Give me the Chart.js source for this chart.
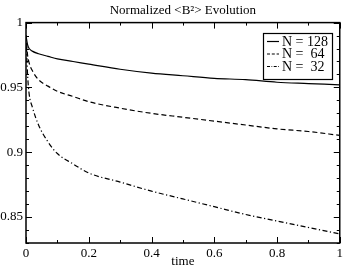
<!DOCTYPE html>
<html>
<head>
<meta charset="utf-8">
<script src="https://cdn.jsdelivr.net/npm/chart.js@4/dist/chart.umd.min.js"></script>
<style>
  html, body { margin: 0; padding: 0; background: #fff; }
  #wrap { width: 346px; height: 269px; }
</style>
</head>
<body>
<div id="wrap"><canvas id="myChart"></canvas></div>
<script>
// Données
const temps = [0, 0.005, 0.01, 0.02, 0.04, 0.07, 0.1, 0.15, 0.2, 0.3, 0.4, 0.5, 0.6, 0.7, 0.8, 0.9, 1.0]
const n128 = [0.99, 0.983, 0.980, 0.978, 0.976, 0.974, 0.972, 0.970, 0.968, 0.964, 0.961, 0.959, 0.957, 0.956, 0.954, 0.953, 0.952]
const n64 = [0.99, 0.975, 0.969, 0.963, 0.956, 0.951, 0.947, 0.943, 0.939, 0.934, 0.930, 0.927, 0.924, 0.921, 0.918, 0.916, 0.913]
const n32 = [0.99, 0.96, 0.945, 0.935, 0.921, 0.908, 0.899, 0.891, 0.884, 0.877, 0.870, 0.864, 0.858, 0.852, 0.847, 0.842, 0.837]
const etiquettes = ['N = 128', 'N =  64', 'N =  32']
const ticksX = [0, 0.2, 0.4, 0.6, 0.8, 1]
const ticksY = [0.85, 0.9, 0.95, 1]

const police = 'Liberation Serif, Times New Roman, serif'
const tirets = [[], [5, 3], [5, 2.5, 1.2, 2.5]]

function points(ys) {
    return temps.map((t, i) => ({ x: t, y: ys[i] }))
}

// Cadre, graduations intérieures et légende encadrée
const cadrePlugin = {
    id: 'cadre',
    afterDatasetsDraw(chart) {
        const ctx = chart.ctx
        const a = chart.chartArea
        const sx = chart.scales.x
        const sy = chart.scales.y
        ctx.save()
        ctx.strokeStyle = '#000'
        ctx.lineWidth = 1.5
        ctx.strokeRect(a.left, a.top, a.right - a.left, a.bottom - a.top)
        ctx.lineWidth = 1
        ctx.beginPath()
        // graduations x
        for (let i = 0; i <= 10; i++) {
            const v = i / 10
            const px = Math.round(sx.getPixelForValue(v)) + 0.5
            const len = i % 2 === 0 ? 6 : 3
            ctx.moveTo(px, a.bottom); ctx.lineTo(px, a.bottom - len)
            ctx.moveTo(px, a.top); ctx.lineTo(px, a.top + len)
        }
        // graduations y
        for (let i = 83; i <= 100; i++) {
            const v = i / 100
            const py = Math.round(sy.getPixelForValue(v)) + 0.5
            const len = i % 5 === 0 ? 6 : 3
            ctx.moveTo(a.left, py); ctx.lineTo(a.left + len, py)
            ctx.moveTo(a.right, py); ctx.lineTo(a.right - len, py)
        }
        ctx.stroke()

        // légende
        const bx = 263, by = 33, bw = 69, bh = 46
        ctx.fillStyle = '#fff'
        ctx.fillRect(bx, by, bw, bh)
        ctx.lineWidth = 1.2
        ctx.strokeRect(bx + 0.5, by + 0.5, bw, bh)
        ctx.font = '14px ' + police
        ctx.fillStyle = '#000'
        ctx.textBaseline = 'middle'
        etiquettes.forEach((txt, i) => {
            const y = by + 8.5 + i * 12.5
            ctx.beginPath()
            ctx.setLineDash(tirets[i].map(d => d * 0.6))
            ctx.lineWidth = 1.2
            ctx.moveTo(bx + 4, y); ctx.lineTo(bx + 16, y)
            ctx.stroke()
            ctx.setLineDash([])
            ctx.fillText(txt, bx + 19, y + 0.5)
        })
        ctx.restore()
    }
}

const ctx = document.getElementById('myChart').getContext('2d')
const data = {
    datasets: [n128, n64, n32].map((ys, i) => ({
        label: etiquettes[i],
        data: points(ys),
        borderColor: '#000',
        borderWidth: 1.2,
        borderDash: tirets[i],
        pointRadius: 0,
        cubicInterpolationMode: 'monotone',
        fill: false
    }))
}
const config = {
    type: 'line',
    data: data,
    plugins: [cadrePlugin],
    options: {
        responsive: true,
        maintainAspectRatio: false,
        animation: false,
        layout: { padding: { left: 0, right: 4, top: 0, bottom: 0 } },
        plugins: {
            legend: { display: false },
            tooltip: { enabled: false },
            title: {
                display: true,
                fullSize: false,
                text: 'Normalized <B²> Evolution',
                color: '#000',
                font: { family: police, size: 13, weight: 'normal' },
                padding: { top: 3, bottom: 4 }
            }
        },
        scales: {
            x: {
                type: 'linear',
                min: 0,
                max: 1,
                grid: { display: false, drawTicks: false },
                border: { display: false },
                afterBuildTicks: s => { s.ticks = ticksX.map(v => ({ value: v })) },
                afterFit: s => { s.height = 26 },
                ticks: {
                    color: '#000',
                    padding: 3,
                    maxRotation: 0,
                    font: { family: police, size: 13 },
                    callback: v => String(v)
                },
                title: {
                    display: true,
                    text: 'time',
                    color: '#000',
                    padding: 0,
                    font: { family: police, size: 13 }
                }
            },
            y: {
                min: 0.83,
                max: 1,
                grid: { display: false, drawTicks: false },
                border: { display: false },
                afterBuildTicks: s => { s.ticks = ticksY.map(v => ({ value: v })) },
                afterFit: s => { s.width = 26 },
                ticks: {
                    color: '#000',
                    padding: 3,
                    font: { family: police, size: 13 },
                    callback: v => String(Math.round(v * 100) / 100)
                }
            }
        }
    }
}
const myChart = new Chart(ctx, config)
</script>
</body>
</html>
